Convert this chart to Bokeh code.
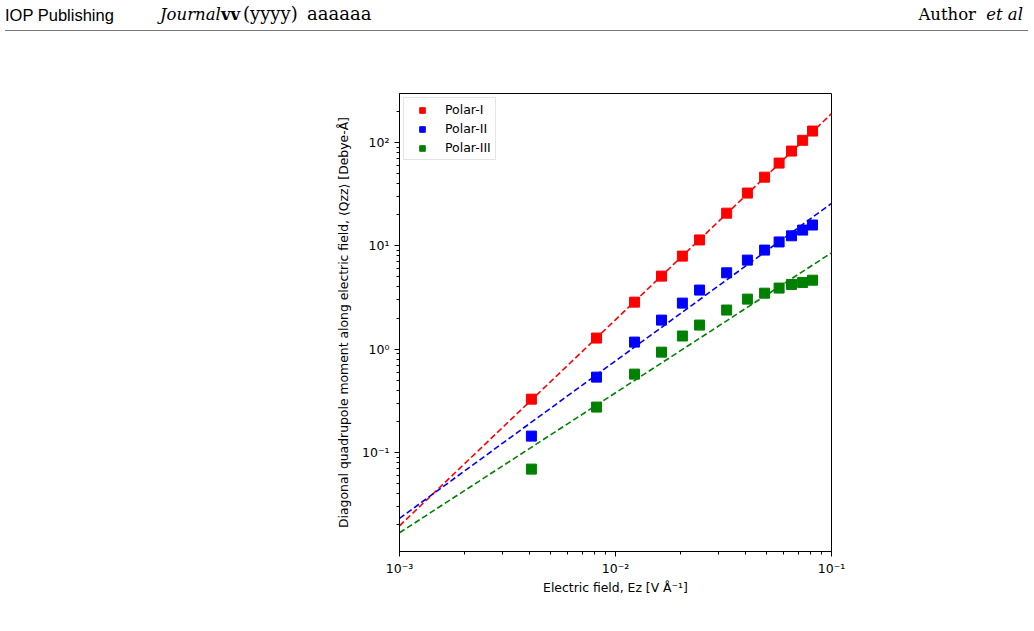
from bokeh.plotting import figure
from bokeh.layouts import column
from bokeh.models import (Range1d, FixedTicker, CustomJSTickFormatter, Legend, LegendItem, Div)
from bokeh.embed import file_html
from bokeh.resources import INLINE

# ---- data ----
field = [0.00408, 0.00817, 0.01225, 0.01633, 0.0204, 0.0245, 0.0327, 0.0408,
         0.049, 0.0572, 0.0653, 0.0735, 0.0817]
polar_1 = [0.328, 1.28, 2.85, 5.09, 7.95, 11.4, 20.7, 32.4, 46.2, 63.2, 82.6, 105, 129]
polar_2 = [0.144, 0.536, 1.17, 1.91, 2.79, 3.73, 5.48, 7.27, 9.09, 10.9, 12.5, 14.2, 15.9]
polar_3 = [0.069, 0.275, 0.573, 0.935, 1.34, 1.71, 2.39, 3.05, 3.48, 3.90, 4.23, 4.42, 4.65]

fit_field = [1e-3, 1e-1]
fit_1 = [0.0195, 190.0]
fit_2 = [0.0230, 25.7]
fit_3 = [0.0167, 8.55]

series_names = ["Polar-I", "Polar-II", "Polar-III"]
series_colors = ["#ff0000", "#0000ff", "#008000"]

x_major = [1e-3, 1e-2, 1e-1]
y_major = [1e-1, 1e0, 1e1, 1e2]

FONT = "DejaVu Sans"

# ---- page header ----
def span(text, family, left=None, right=None, style="normal", weight="normal", size="16.5px",
         top=5):
    pos = f"left:{left}px;" if right is None else f"right:{right}px;"
    return (f'<span style="position:absolute;{pos}top:{top}px;font-family:\'{family}\';'
            f'font-style:{style};font-weight:{weight};font-size:{size};color:black;'
            f'white-space:nowrap;line-height:20px;">{text}</span>')

header_html = (
    '<div style="position:relative;width:1034px;height:40px;">'
    + span("IOP Publishing", "Liberation Sans", left=5)
    + span("Journal", "DejaVu Serif", left=160, style="italic")
    + span("vv", "DejaVu Serif", left=221, weight="bold")
    + span("(yyyy)", "DejaVu Serif", left=243, size="18px", top=4)
    + span("aaaaaa", "DejaVu Serif", left=307, size="18px", top=4)
    + span("Author", "DejaVu Serif", right=1034 - 976)
    + span("et al", "DejaVu Serif", right=1034 - 1023, style="italic")
    + '<div style="position:absolute;left:5px;top:30px;width:1023px;height:1px;background:#777777;"></div>'
    + '</div>'
)
hdr = Div(text=header_html, width=1034, height=40, margin=(0, 0, 0, 0))

# ---- main plot ----
p = figure(width=1034, height=591, x_axis_type="log", y_axis_type="log",
           x_range=Range1d(1e-3, 1e-1), y_range=Range1d(0.011, 298),
           output_backend="svg", toolbar_location=None, margin=(0, 0, 0, 0),
           min_border_left=399, min_border_right=203, min_border_top=53, min_border_bottom=80)
p.xgrid.visible = False
p.ygrid.visible = False
p.outline_line_color = "black"
p.outline_line_alpha = 1
p.outline_line_width = 1

fmt_code = """
const sup = {"-":"\u207b","0":"\u2070","1":"\u00b9","2":"\u00b2","3":"\u00b3","4":"\u2074",
             "5":"\u2075","6":"\u2076","7":"\u2077","8":"\u2078","9":"\u2079"};
const e = Math.round(Math.log10(tick));
return "10" + String(e).split("").map(c => sup[c]).join("");
"""

x_minor = [m * d for d in [1e-3, 1e-2] for m in range(2, 10)]
y_minor = [m * d for d in [1e-2, 1e-1, 1e0, 1e1, 1e2] for m in range(2, 10)]

p.xaxis.ticker = FixedTicker(ticks=x_major, minor_ticks=x_minor)
p.yaxis.ticker = FixedTicker(ticks=y_major, minor_ticks=y_minor)
for ax in (p.xaxis[0], p.yaxis[0]):
    ax.formatter = CustomJSTickFormatter(code=fmt_code)
    ax.major_label_text_font = FONT
    ax.major_label_text_font_size = "12.5px"
    ax.major_label_text_color = "black"
    ax.axis_label_text_font = FONT
    ax.axis_label_text_font_size = "12.4px"
    ax.axis_label_text_font_style = "normal"
    ax.axis_label_text_color = "black"
    ax.axis_line_color = "black"
    ax.major_tick_line_color = "black"
    ax.minor_tick_line_color = "black"
    ax.major_tick_in = 0
    ax.major_tick_out = 5
    ax.minor_tick_in = 0
    ax.minor_tick_out = 3

p.xaxis.axis_label = "Electric field, E\u1d22 [V \u00c5\u207b\u00b9]"
p.yaxis.axis_label = "Diagonal quadrupole moment along electric field, \u27e8Q\u1d22\u1d22\u27e9 [Debye-\u00c5]"
p.xaxis.major_label_standoff = 4
p.xaxis.axis_label_standoff = 1
p.yaxis.major_label_standoff = 5
p.yaxis.axis_label_standoff = 8

fits = [fit_1, fit_2, fit_3]
values = [polar_1, polar_2, polar_3]
items = []
for name, col, fit, vals in zip(series_names, series_colors, fits, values):
    p.line(x=fit_field, y=fit, line_color=col, line_width=1.6, line_dash="6 3")
    r = p.scatter(x=field, y=vals, marker="square", size=10, fill_color=col, line_color=col)
    items.append(LegendItem(label=name, renderers=[r]))

legend = Legend(items=items, location="top_left")
legend.label_text_font = FONT
legend.label_text_font_size = "12.5px"
legend.label_text_color = "black"
legend.border_line_color = "#cccccc"
legend.border_line_width = 1
legend.background_fill_color = "white"
legend.background_fill_alpha = 0.8
legend.spacing = 4
legend.padding = 4
legend.margin = 4
legend.glyph_width = 28
legend.glyph_height = 14
legend.label_height = 14
legend.label_standoff = 9
p.add_layout(legend)

layout = column(hdr, p, spacing=0)
open("out.html", "w").write(file_html(layout, INLINE))
